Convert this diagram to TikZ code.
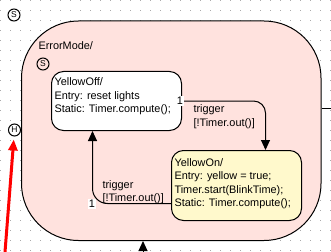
\documentclass[tikz,border=0pt]{standalone}
\usepackage{fontspec}
\setmainfont{Liberation Sans}
\usetikzlibrary{arrows.meta}
\definecolor{errfill}{RGB}{255,226,222}
\definecolor{onfill}{RGB}{255,249,204}
\definecolor{griddot}{RGB}{170,170,170}
\begin{document}
\begin{tikzpicture}[
    x=1pt, y=-1pt,
    font=\fontsize{10.9}{13.3}\selectfont,
    line width=1pt,
    state/.style={draw, rounded corners=12pt, inner sep=0pt, anchor=north west},
    txt/.style={anchor=north west, align=left, inner sep=0pt},
    pseudo/.style={draw, circle, minimum size=12pt, inner sep=0pt, font=\fontsize{8.5}{8.5}\selectfont},
    arr/.style={-{Triangle[width=9pt,length=10pt]}, rounded corners=12pt},
    num/.style={fill=white, inner sep=1pt}
  ]
    \useasboundingbox (0,0) rectangle (331,251);

    % background grid
    \foreach \i in {0,...,33}
      \foreach \j in {0,...,25}
        \fill[griddot] (10*\i,10*\j) rectangle ++(1,1);

    % superstate
    \node[state, rounded corners=57pt, fill=errfill, minimum width=299.5pt, minimum height=219.5pt]
      (err) at (21,20.5) {};
    \node[anchor=base west, inner sep=0pt] (errname) at (38,50) {ErrorMode/};
    \node[pseudo] (start) at (14,15) {S};
    \node[pseudo, fill=white] (hist) at (14.5,130) {H};
    \node[pseudo] (innerstart) at (43,64) {S};

    % substates
    \node[state, fill=white, minimum width=130pt, minimum height=59pt] (off) at (51,71) {};
    \node[txt] (offtxt) at (54,77.5)
      {YellowOff/\\Entry: reset lights\\Static: Timer.compute();};
    \node[state, fill=onfill, minimum width=130pt, minimum height=70pt] (on) at (171,150) {};
    \node[txt] (ontxt) at (174,158)
      {YellowOn/\\Entry: yellow = true;\\Timer.start(BlinkTime);\\Static: Timer.compute();};

    % transitions
    \draw[arr] (off.east) -| ([xshift=29pt]on.north);
    \node[txt] (trig1) at (193,104.5) {trigger\\{[}!Timer.out()]};
    \node[num] (n1) at (180,101) {1};

    \draw[arr, rounded corners=15pt] ([yshift=-18pt]on.west) -| ([xshift=-24pt]off.south);
    \node[txt] (trig2) at (102,180) {trigger\\{[}!Timer.out()]};
    \node[num] (n2) at (92,204) {1};

    % outer connections
    \coordinate (hin) at (5,252);
    \draw[red, line width=3pt, -{Triangle[width=9pt,length=11pt]}, shorten >=3pt] (hin) -- (hist);
    \coordinate (bin) at (143,262);
    \draw[arr] (bin) -- (bin |- err.south);
    \coordinate (rout) at (340,108);
    \draw (err.east |- rout) -- (rout);
  \end{tikzpicture}
\end{document}
